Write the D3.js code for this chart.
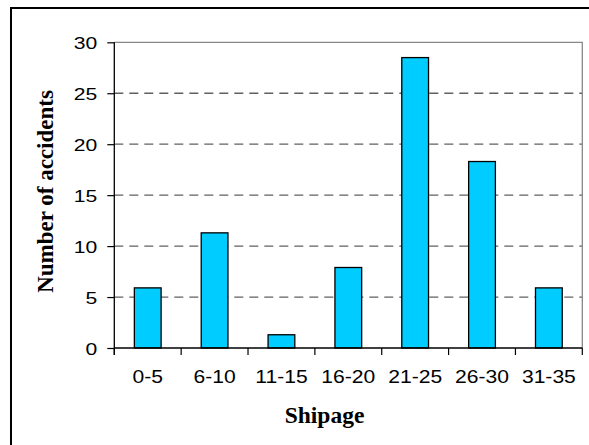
<!DOCTYPE html>
<html>
<head>
<meta charset="utf-8">
<script src="https://cdn.jsdelivr.net/npm/d3@7"></script>
<style>
  body { margin: 0; background: #fff; }
  svg { display: block; }
</style>
</head>
<body>
<div id="chart"></div>
<script>
const categories = ["0-5", "6-10", "11-15", "16-20", "21-25", "26-30", "31-35"];
const accidents = [5.9, 11.3, 1.3, 7.9, 28.5, 18.3, 5.9];
const yTicks = [0, 5, 10, 15, 20, 25, 30];

const width = 589, height = 445;
const plot = {left: 114.3, right: 582.3, top: 42.3, bottom: 348};

const svg = d3.select("#chart")
  .append("svg")
  .attr("width", width)
  .attr("height", height);

// outer frame (runs off the right / bottom edge)
svg.append("rect")
  .attr("x", 11).attr("y", 8)
  .attr("width", 620).attr("height", 470)
  .attr("fill", "none")
  .attr("stroke", "#000")
  .attr("stroke-width", 2);

let x = d3.scaleBand()
  .domain(categories)
  .range([plot.left, plot.right])
  .paddingInner(0.6)
  .paddingOuter(0.3);

let y = d3.scaleLinear()
  .domain([0, 30])
  .range([plot.bottom, plot.top]);

// dashed gridlines
svg.append("g")
  .selectAll("line")
  .data(yTicks.filter(d => d > 0 && d < 30))
  .enter()
  .append("line")
  .attr("x1", plot.left).attr("x2", plot.right)
  .attr("y1", d => y(d)).attr("y2", d => y(d))
  .attr("stroke", "#606060")
  .attr("stroke-width", 1.3)
  .attr("stroke-dasharray", "9,6");

// grey top and right border
svg.append("path")
  .attr("d", `M${plot.left},${y(30)}H${plot.right}V${plot.bottom}`)
  .attr("fill", "none")
  .attr("stroke", "#888")
  .attr("stroke-width", 1.3);

// bars
svg.append("g")
  .selectAll("rect")
  .data(categories)
  .enter()
  .append("rect")
  .attr("x", d => x(d))
  .attr("y", (d, i) => y(accidents[i]))
  .attr("width", x.bandwidth())
  .attr("height", (d, i) => y(0) - y(accidents[i]))
  .attr("fill", "#00CCFF")
  .attr("stroke", "#000")
  .attr("stroke-width", 1.3);

// y axis
let yAxis = svg.append("g")
  .attr("transform", `translate(${plot.left},0)`)
  .call(d3.axisLeft(y).tickValues(yTicks).tickSize(7).tickSizeOuter(0));
yAxis.select(".domain").remove();
yAxis.selectAll("line").attr("stroke", "#000").attr("stroke-width", 1.2);
yAxis.selectAll("text")
  .attr("x", null).attr("dy", null)
  .attr("transform", "translate(-17,6) scale(1.28,1)")
  .attr("text-anchor", "end")
  .style("font-family", "'Liberation Sans', Arial, sans-serif")
  .style("font-size", "16.5px")
  .attr("fill", "#000");
svg.append("line")
  .attr("x1", plot.left).attr("x2", plot.left)
  .attr("y1", plot.top).attr("y2", plot.bottom + 7)
  .attr("stroke", "#000").attr("stroke-width", 1.3);

// x axis labels
let xAxis = svg.append("g")
  .attr("transform", `translate(0,${plot.bottom})`)
  .call(d3.axisBottom(x).tickSize(0));
xAxis.select(".domain").remove();
xAxis.selectAll("text")
  .attr("y", null).attr("dy", null)
  .attr("transform", "translate(0,35.3) scale(1.14,1)")
  .style("font-family", "'Liberation Sans', Arial, sans-serif")
  .style("font-size", "18.5px")
  .attr("fill", "#000");

// baseline and category boundary ticks
svg.append("line")
  .attr("x1", plot.left).attr("x2", plot.right)
  .attr("y1", plot.bottom).attr("y2", plot.bottom)
  .attr("stroke", "#000").attr("stroke-width", 1.3);
svg.append("g")
  .selectAll("line")
  .data(categories.concat([null]))
  .enter()
  .append("line")
  .attr("x1", (d, i) => plot.left + i * x.step())
  .attr("x2", (d, i) => plot.left + i * x.step())
  .attr("y1", plot.bottom).attr("y2", plot.bottom + 7)
  .attr("stroke", "#000").attr("stroke-width", 1.2);

// axis titles
svg.append("text")
  .attr("transform", "translate(53,191.5) rotate(-90)")
  .attr("text-anchor", "middle")
  .style("font-family", "'Liberation Serif', 'Times New Roman', serif")
  .style("font-weight", "bold")
  .style("font-size", "23px")
  .text("Number of accidents");

svg.append("text")
  .attr("x", 324.5).attr("y", 423)
  .attr("text-anchor", "middle")
  .style("font-family", "'Liberation Serif', 'Times New Roman', serif")
  .style("font-weight", "bold")
  .style("font-size", "23.5px")
  .text("Shipage");
</script>
</body>
</html>
